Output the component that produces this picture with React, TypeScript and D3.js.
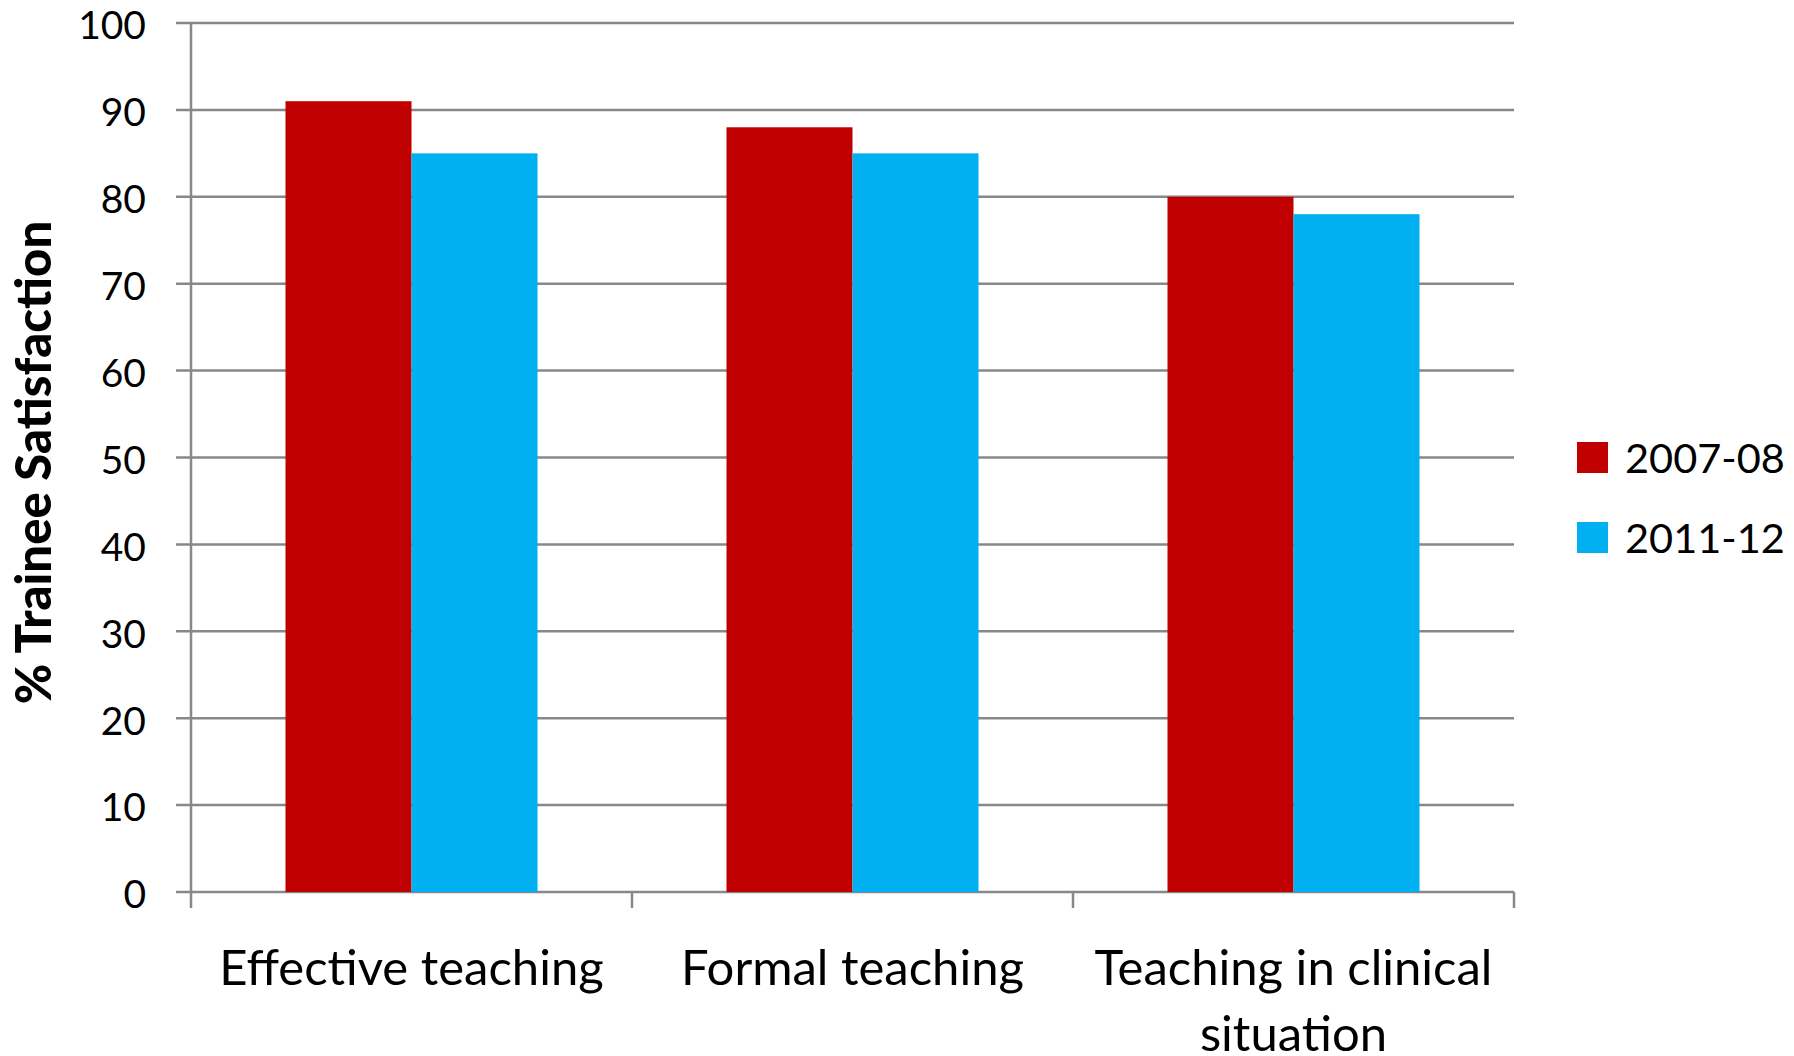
import React from "react";
import * as d3 from "d3";

const categories = ["Effective teaching", "Formal teaching", "Teaching in clinical situation"];
const categoryLines = [["Effective teaching"], ["Formal teaching"], ["Teaching in clinical", "situation"]];
const seriesNames = ["2007-08", "2011-12"];
const seriesColors = ["#C00000", "#00B0F0"];
const values2007 = [91, 88, 80];
const values2011 = [85, 85, 78];
const yTicks = [0, 10, 20, 30, 40, 50, 60, 70, 80, 90, 100];

const W = 1794;
const H = 1056;
const FONT = "Lato, 'Open Sans', sans-serif";

export default function App() {
  const left = 191;
  const right = 1514;
  const top = 23;
  const bottom = 892;
  const x = d3.scaleBand().domain(categories).range([left, right]).paddingInner(0).paddingOuter(0);
  const y = d3.scaleLinear().domain([0, 100]).range([bottom, top]);
  const bw = x.bandwidth() / 3.5;
  const series = [values2007, values2011];
  const grid = "#888888";

  return (
    <svg width={W} height={H} style={{ position: "absolute", left: 0, top: 0, background: "#fff" }}>
      {yTicks.map((t) => (
        <g key={t}>
          <line x1={left - 15} x2={right} y1={y(t)} y2={y(t)} stroke={grid} strokeWidth={2.5} />
          <text x={146} y={y(t)} dy="0.42em" textAnchor="end" fontFamily={FONT} fontSize={39} fill="#000">
            {t}
          </text>
        </g>
      ))}
      <line x1={left} x2={left} y1={top} y2={bottom + 16} stroke={grid} strokeWidth={2.5} />
      {categories.map((c) => (
        <line key={c} x1={(x(c) as number) + x.bandwidth()} x2={(x(c) as number) + x.bandwidth()} y1={bottom} y2={bottom + 16} stroke={grid} strokeWidth={2.5} />
      ))}
      {series.map((vals, si) =>
        vals.map((v, ci) => {
          const x0 = (x(categories[ci]) as number) + bw * 0.75 + si * bw;
          return (
            <rect key={si + "-" + ci} x={x0} y={y(v)} width={bw} height={y(0) - y(v)} fill={seriesColors[si]} />
          );
        })
      )}
      {categories.map((c, i) => (
        <text key={c} x={(x(c) as number) + x.bandwidth() / 2} y={985} textAnchor="middle" fontFamily={FONT} fontSize={49} fill="#000">
          {categoryLines[i].map((ln, li) => (
            <tspan key={li} x={(x(c) as number) + x.bandwidth() / 2} dy={li === 0 ? 0 : 66}>
              {ln}
            </tspan>
          ))}
        </text>
      ))}
      <text
        transform={`translate(34,${(top + bottom) / 2 + 5}) rotate(-90)`}
        textAnchor="middle"
        dy="0.35em"
        fontFamily={FONT}
        fontWeight={900}
        fontSize={49}
        fill="#000"
      >
        % Trainee Satisfaction
      </text>
      {seriesNames.map((s, i) => (
        <g key={s}>
          <rect x={1577} y={442 + i * 80} width={31} height={31} fill={seriesColors[i]} />
          <text x={1625} y={457 + i * 80} dy="0.38em" fontFamily={FONT} fontSize={41.5} fill="#000">
            {s}
          </text>
        </g>
      ))}
    </svg>
  );
}
